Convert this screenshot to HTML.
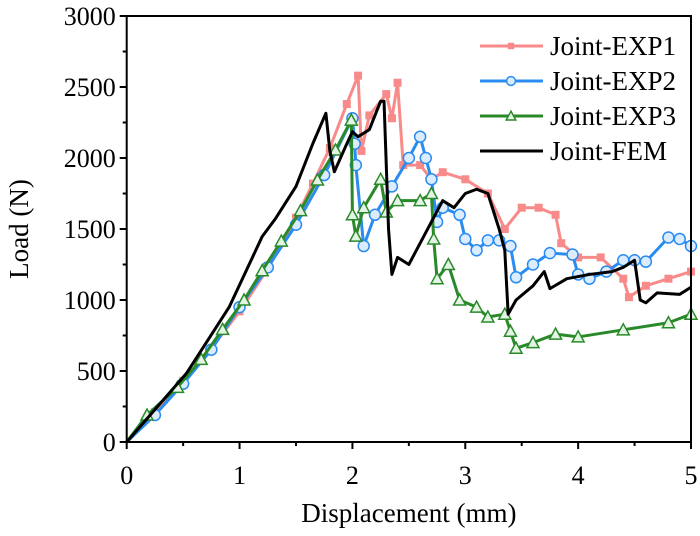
<!DOCTYPE html>
<html><head><meta charset="utf-8"><style>
body{margin:0;background:#fff}
svg text{font-family:"Liberation Serif",serif;fill:#000}
</style></head><body>
<svg id="c" width="700" height="531"></svg>
<script>
const xTicks=[0,1,2,3,4,5];
const yTicks=[0,500,1000,1500,2000,2500,3000];
const exp1X=[0,0.25,0.5,0.75,1,1.25,1.5,1.65,1.8,1.95,2.05,2.08,2.15,2.3,2.35,2.4,2.45,2.6,2.7,2.8,3.0,3.2,3.35,3.5,3.65,3.8,3.85,4.0,4.2,4.4,4.45,4.6,4.8,5.0];
const exp1Y=[0,210,430,660,920,1220,1580,1820,2070,2380,2580,2050,2300,2450,2280,2530,1950,1950,1850,1900,1850,1750,1500,1650,1650,1600,1400,1300,1300,1150,1020,1100,1150,1200];
const exp2X=[0,0.25,0.5,0.75,1,1.25,1.5,1.75,2.0,2.02,2.03,2.1,2.2,2.35,2.5,2.6,2.65,2.7,2.75,2.8,2.95,3.0,3.1,3.2,3.3,3.4,3.45,3.6,3.75,3.95,4.0,4.1,4.25,4.4,4.5,4.6,4.8,4.9,5.0];
const exp2Y=[0,190,410,650,950,1230,1530,1880,2280,2100,1950,1380,1600,1800,2000,2150,2000,1850,1550,1650,1600,1430,1350,1420,1420,1380,1160,1250,1330,1320,1180,1150,1200,1280,1280,1270,1440,1430,1380];
const exp3X=[0,0.18,0.45,0.66,0.85,1.04,1.2,1.37,1.54,1.69,1.85,1.99,2.0,2.03,2.1,2.25,2.3,2.4,2.6,2.7,2.72,2.75,2.85,2.95,3.1,3.2,3.35,3.4,3.45,3.6,3.8,4.0,4.4,4.8,5.0];
const exp3Y=[0,190,385,582,793,1000,1206,1415,1629,1845,2056,2267,1600,1450,1650,1850,1620,1700,1700,1750,1430,1150,1250,1000,950,880,900,780,660,700,760,740,790,840,900];
const femX=[0,0.53,0.91,1.2,1.32,1.5,1.65,1.765,1.8,1.84,1.95,2.0,2.05,2.15,2.25,2.28,2.32,2.35,2.4,2.5,2.6,2.8,2.9,3.0,3.1,3.2,3.3,3.35,3.38,3.45,3.6,3.7,3.75,3.9,4.1,4.3,4.4,4.5,4.55,4.6,4.7,4.9,5.0];
const femY=[0,484,953,1446,1575,1800,2103,2315,2050,1903,2100,2185,2150,2200,2400,2400,1500,1180,1300,1250,1400,1700,1650,1750,1780,1750,1500,1350,900,1000,1100,1200,1080,1150,1180,1200,1230,1280,1000,980,1050,1040,1090];
const names=["Joint-EXP1","Joint-EXP2","Joint-EXP3","Joint-FEM"];
const L=126.7,R=691,T=16,B=442;
const sx=v=>L+v/5*(R-L), sy=v=>B-v/3000*(B-T);
const svg=document.getElementById('c'),NS='http://www.w3.org/2000/svg';
function mk(t,a,p){const e=document.createElementNS(NS,t);for(const k in a)e.setAttribute(k,a[k]);(p||svg).appendChild(e);return e;}
const series=[
 {x:exp1X,y:exp1Y,c:'#f88a8a',m:'sq',n:'exp1'},
 {x:exp2X,y:exp2Y,c:'#2a8cf0',m:'ci',n:'exp2'},
 {x:exp3X,y:exp3Y,c:'#2a8a2a',m:'tr',n:'exp3'},
 {x:femX,y:femY,c:'#000',m:null,n:'fem'}];
function marker(g,t,cx,cy,c,s){
 let e;
 if(t==='sq'){e=mk('rect',{x:cx-4*s,y:cy-4*s,width:8*s,height:8*s,fill:c},g);}
 else if(t==='ci'){e=mk('circle',{cx:cx,cy:cy,r:5.5*s,fill:'#dcecff',stroke:c,'stroke-width':1.5},g);}
 else {e=mk('polygon',{points:`${cx},${cy-6*s} ${cx-6*s},${cy+5*s} ${cx+6*s},${cy+5*s}`,fill:'#e4f4e4',stroke:c,'stroke-width':1.5},g);}
 
 
}
series.forEach(s=>{
 const g=mk('g',{});
 
 
 const pts=s.x.map((v,i)=>sx(v)+','+sy(s.y[i])).join(' ');
 const pl=mk('polyline',{points:pts,fill:'none',stroke:s.c,'stroke-width':3,'stroke-linejoin':'round'},g);
 
 
 if(s.m) s.x.forEach((v,i)=>{if(i>0)marker(g,s.m,sx(v),sy(s.y[i]),s.c,1);});
});
const fr=mk('rect',{x:L,y:T,width:R-L,height:B-T,fill:'none',stroke:'#000','stroke-width':2});


for(let v=0;v<=5;v+=0.5){mk('line',{x1:sx(v),x2:sx(v),y1:B,y2:B+(v%1?4:7),stroke:'#000','stroke-width':2});}
for(let v=0;v<=3000;v+=250){mk('line',{x1:L,x2:L-(v%500?4:7),y1:sy(v),y2:sy(v),stroke:'#000','stroke-width':2});}
xTicks.forEach(v=>{
 const t=mk('text',{x:sx(v),y:B+42,'text-anchor':'middle','font-size':26});t.textContent=v;
 
 
});
yTicks.forEach(v=>{
 const t=mk('text',{x:L-11,y:sy(v)+9,'text-anchor':'end','font-size':26});t.textContent=v;
 
 
});
const xl=mk('text',{x:(L+R)/2,y:522,'text-anchor':'middle','font-size':27});xl.textContent='Displacement (mm)';


const yl=mk('text',{x:0,y:0,'text-anchor':'middle','font-size':27,transform:`translate(28,${(T+B)/2}) rotate(-90)`});yl.textContent='Load (N)';


const lg=mk('g',{});


series.forEach((s,i)=>{
 const y=46+i*35;
 const le=mk('g',{},lg);
 
 
 mk('line',{x1:480,x2:543,y1:y,y2:y,stroke:s.c,'stroke-width':3},le);
 if(s.m) marker(le,s.m,511,y,s.c,0.8);
 const t=mk('text',{x:550,y:y+9,'font-size':27},le);t.textContent=names[i];
});
</script>
</body></html>
